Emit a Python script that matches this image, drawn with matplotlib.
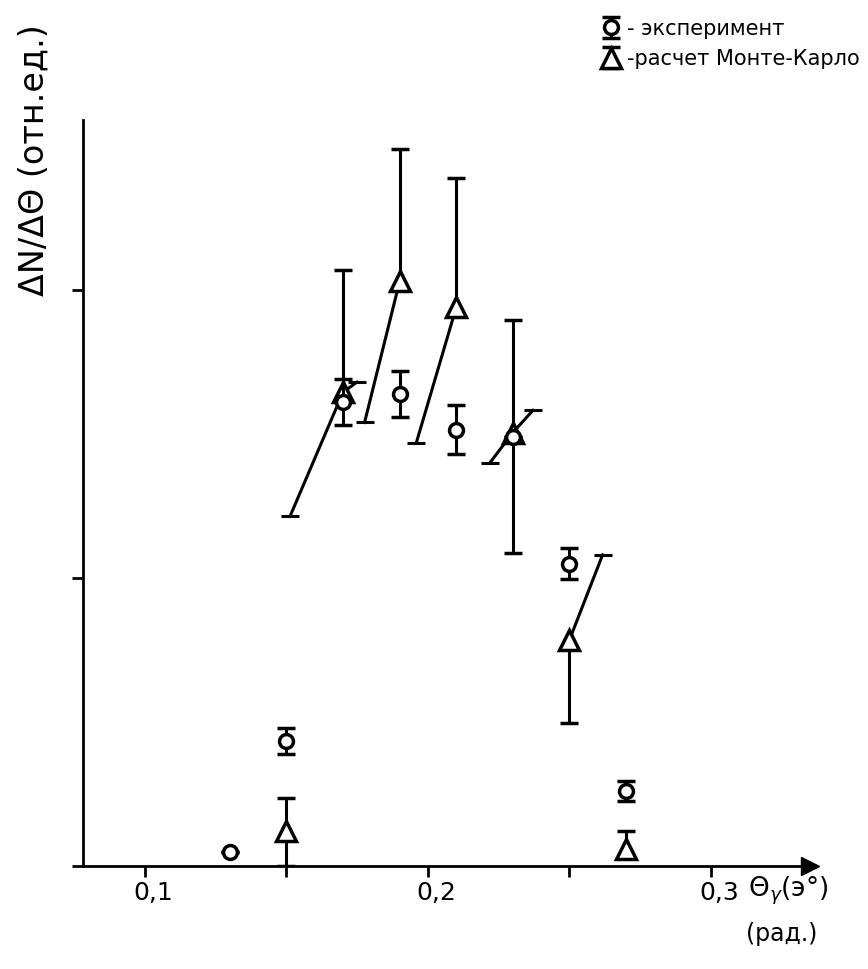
import matplotlib.pyplot as plt
import matplotlib.transforms as mtransforms
import numpy as np

# experiment: angle, value, error
exp_x = [0.13, 0.15, 0.17, 0.19, 0.21, 0.23, 0.25, 0.27]
exp_y = [0.05, 0.435, 1.61, 1.64, 1.515, 1.49, 1.05, 0.26]
exp_err = [0.0, 0.045, 0.08, 0.08, 0.085, 0.0, 0.055, 0.035]

# Monte-Carlo: angle, value, vertical bar up / down
mc_x = [0.15, 0.17, 0.19, 0.21, 0.23, 0.25, 0.27]
mc_y = [0.12, 1.645, 2.03, 1.94, 1.505, 0.785, 0.06]
mc_up = [0.115, 0.425, 0.46, 0.45, 0.39, 0.0, 0.06]
mc_dn = [0.12, 0.0, 0.0, 0.0, 0.42, 0.29, 0.0]

# slanted bars of the Monte-Carlo points (index, low end dx/dy, high end dx/dy)
slant_idx = [1, 2, 3, 4, 5]
slant_lo = [(-0.0187, -0.43), (-0.0124, -0.49), (-0.0141, -0.47), (-0.0081, -0.105), (0.0, 0.0)]
slant_hi = [(0.0049, 0.035), (0.0, 0.0), (0.0, 0.0), (0.0071, 0.077), (0.0117, 0.295)]

xticks = [0.1, 0.15, 0.2, 0.25, 0.3]
xticklabels = ['0,1', '', '0,2', '', '0,3']
yticks = [0, 1, 2]

W, H = 868, 969
fig = plt.figure(figsize=(W / 100, H / 100), dpi=100)
ax = fig.add_axes([83 / W, 1 - 866 / H, (810 - 83) / W, (866 - 120) / H])
ax.set_xlim(0.0781, 0.335)
ax.set_ylim(0, 2.59)

lw = 2.2
for s in ['top', 'right']:
    ax.spines[s].set_visible(False)
for s in ['left', 'bottom']:
    ax.spines[s].set_linewidth(2.0)

# axis arrows
ax.plot(1, 0, '>k', ms=13, transform=ax.get_yaxis_transform(), clip_on=False)
ax.plot(0, 1, '^k', ms=9, transform=ax.get_xaxis_transform(), clip_on=False)

ax.set_xticks(xticks)
ax.set_xticklabels(xticklabels, fontsize=18)
ax.set_yticks(yticks)
ax.set_yticklabels([])
ax.tick_params(length=8, width=2, pad=3)
# labels sit a little to the right of their ticks
shift = mtransforms.ScaledTranslation(8 / 100, 0, fig.dpi_scale_trans)
for lab in ax.get_xticklabels():
    lab.set_transform(lab.get_transform() + shift)

# experiment points
h_exp = ax.errorbar(exp_x, exp_y, yerr=exp_err, fmt='o', mfc='white', mec='k',
                    mew=2.5, ms=10, ecolor='k', elinewidth=lw, capsize=6.5,
                    capthick=lw, zorder=4)

# Monte-Carlo points with vertical bars
h_mc = ax.errorbar(mc_x, mc_y, yerr=[mc_dn, mc_up], fmt='^', mfc='white', mec='k',
                   mew=2.5, ms=15, ecolor='k', elinewidth=lw, capsize=6.5,
                   capthick=lw, zorder=3)
# hide caps of zero-length bars
x_arr = np.array(mc_x)
y_arr = np.array(mc_y)
for cap in h_mc[1]:
    yd = np.array(cap.get_ydata())
    keep = ~np.isclose(yd, y_arr)
    cap.set_data(x_arr[keep], yd[keep])

# slanted bars
for i, lo, hi in zip(slant_idx, slant_lo, slant_hi):
    x0, y0 = mc_x[i], mc_y[i]
    for dx, dy in (lo, hi):
        if dy == 0:
            continue
        ax.plot([x0, x0 + dx], [y0, y0 + dy], color='k', lw=lw, zorder=2)
        ax.plot(x0 + dx, y0 + dy, marker='_', color='k', ms=13, mew=lw, zorder=2)

# labels
fig.text(34 / W, 1 - 160 / H, 'ΔN/ΔΘ (отн.ед.)', rotation=90, fontsize=24,
         ha='center', va='center')
fig.text(748 / W, 1 - 891 / H, 'Θ$_{γ}$(э°)', fontsize=19, ha='left', va='center')
fig.text(782 / W, 1 - 934 / H, '(рад.)', fontsize=17, ha='center', va='center')

# legend
fig.legend([h_exp, h_mc], ['- эксперимент', '-расчет Монте-Карло'],
           loc='upper left', bbox_to_anchor=(583 / W, 1 - 0 / H), frameon=False,
           fontsize=15, handlelength=0.9, handletextpad=0.3, labelspacing=0.5)

fig.savefig('out.png', dpi=100)
